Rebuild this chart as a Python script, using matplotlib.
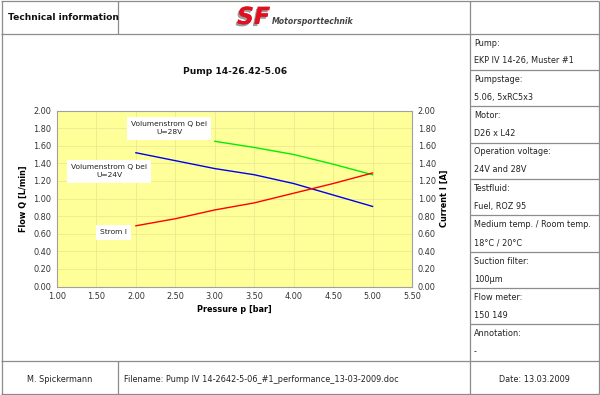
import matplotlib
matplotlib.use("Agg")
import matplotlib.pyplot as plt
import matplotlib.patheffects as pe

# ---- data ----
pressure_28v = [3.0, 3.5, 4.0, 4.5, 5.0]
flow_28v = [1.65, 1.58, 1.50, 1.39, 1.27]
pressure_24v = [2.0, 2.5, 3.0, 3.5, 4.0, 4.5, 5.0]
flow_24v = [1.52, 1.43, 1.34, 1.27, 1.17, 1.04, 0.91]
pressure_cur = [2.0, 2.5, 3.0, 3.5, 4.0, 4.5, 5.0]
current = [0.69, 0.77, 0.87, 0.95, 1.06, 1.17, 1.29]

x_ticks = [1.0, 1.5, 2.0, 2.5, 3.0, 3.5, 4.0, 4.5, 5.0, 5.5]
y_ticks = [0.0, 0.2, 0.4, 0.6, 0.8, 1.0, 1.2, 1.4, 1.6, 1.8, 2.0]

chart_title = "Pump 14-26.42-5.06"
info_rows = [
    ("Pump:", "EKP IV 14-26, Muster #1"),
    ("Pumpstage:", "5.06, 5xRC5x3"),
    ("Motor:", "D26 x L42"),
    ("Operation voltage:", "24V and 28V"),
    ("Testfluid:", "Fuel, ROZ 95"),
    ("Medium temp. / Room temp.", "18°C / 20°C"),
    ("Suction filter:", "100µm"),
    ("Flow meter:", "150 149"),
    ("Annotation:", "-"),
]
footer_author = "M. Spickermann"
footer_file = "Filename: Pump IV 14-2642-5-06_#1_performance_13-03-2009.doc"
footer_date = "Date: 13.03.2009"

plt.rcParams['font.family'] = ['DejaVu Sans']

W, H = 600, 395
fig = plt.figure(figsize=(6.0, 3.95), dpi=100)
fig.patch.set_facecolor("white")

# page frame axes in pixel coords
bg = fig.add_axes([0, 0, 1, 1])
bg.set_xlim(0, W)
bg.set_ylim(H, 0)
bg.axis("off")

lc = "#8c8c8c"
lw = 0.9
def hl(y, x0, x1):
    bg.plot([x0, x1], [y, y], color=lc, lw=lw, solid_capstyle="butt")
def vl(x, y0, y1):
    bg.plot([x, x], [y0, y1], color=lc, lw=lw, solid_capstyle="butt")

hl(1, 1, 599)
hl(394, 1, 599)
vl(1.5, 1, 394)
vl(598.5, 1, 394)
hl(33.5, 1, 599)
hl(360.5, 1, 599)
vl(118, 1, 33.5)
vl(118, 360.5, 394)
vl(469.5, 1, 394)

# right panel
row_h = (360.5 - 33.5) / 9
txt = "#222222"
for i, (lab, val) in enumerate(info_rows):
    y0 = 33.5 + i * row_h
    bg.text(474, y0 + 9.5, lab, fontsize=5.9, color=txt, va="center", ha="left")
    bg.text(474, y0 + 27.5, val, fontsize=5.9, color=txt, va="center", ha="left")
    if i > 0:
        hl(y0, 469.5, 599)

# header
bg.text(8, 17, "Technical information", fontsize=6.6, fontweight="bold",
        color="#111111", va="center", ha="left")
# logo
bg.text(237, 17, "SF", fontsize=17, fontweight="bold", fontstyle="italic",
        color="#e01020", va="center", ha="left",
        path_effects=[pe.withSimplePatchShadow(offset=(-1.2, -1.5),
                                               shadow_rgbFace="#9a9a9a",
                                               alpha=1.0),
                      pe.Normal()])
bg.text(272, 22, "Motorsporttechnik", fontsize=5.6, fontweight="bold",
        fontstyle="italic", color="#444444", va="center", ha="left")

# footer
bg.text(60, 380, footer_author, fontsize=5.9, color=txt, va="center", ha="center")
bg.text(124, 380, footer_file, fontsize=5.9, color=txt, va="center", ha="left")
bg.text(534, 380, footer_date, fontsize=5.9, color=txt, va="center", ha="center")

# chart title
bg.text(235, 72, chart_title, fontsize=6.6, fontweight="bold", color="#111111",
        va="center", ha="center")

# ---- chart ----
px0, px1, py0, py1 = 57, 412, 110.5, 286.5
ax = fig.add_axes([px0 / W, 1 - py1 / H, (px1 - px0) / W, (py1 - py0) / H])
ax.set_facecolor("#ffff99")
ax.set_xlim(1.0, 5.5)
ax.set_ylim(0.0, 2.0)
ax.set_xticks(x_ticks)
ax.set_yticks(y_ticks)
ax.set_xticklabels([f"{v:.2f}" for v in x_ticks])
ax.set_yticklabels([f"{v:.2f}" for v in y_ticks])
ax.grid(True, color="#eaea90", lw=0.6)
ax.set_axisbelow(True)
for s in ax.spines.values():
    s.set_color("#a0a0a0")
    s.set_linewidth(0.8)
ax.tick_params(labelsize=5.9, colors="#333333", length=0, pad=4)

ax.plot(pressure_28v, flow_28v, color="#00ee00", lw=1.0)
ax.plot(pressure_24v, flow_24v, color="#0000ee", lw=1.0)

ax2 = ax.twinx()
ax2.set_ylim(0.0, 2.0)
ax2.set_yticks(y_ticks)
ax2.set_yticklabels([f"{v:.2f}" for v in y_ticks])
ax2.tick_params(labelsize=5.9, colors="#333333", length=0, pad=4)
for s in ax2.spines.values():
    s.set_visible(False)
ax2.plot(pressure_cur, current, color="#ff0000", lw=1.0)

ax.set_xlabel("Pressure p [bar]", fontsize=5.9, fontweight="bold", labelpad=3)
ax.set_ylabel("Flow Q [L/min]", fontsize=5.9, fontweight="bold", labelpad=4)
ax2.set_ylabel("Current I [A]", fontsize=5.9, fontweight="bold", labelpad=3)

box = dict(facecolor="white", edgecolor="none", pad=3)
ax.text(2.42, 1.80, "Volumenstrom Q bei\nU=28V", fontsize=5.4, ha="center",
        va="center", bbox=box, color="#222222", linespacing=1.5)
ax.text(1.66, 1.31, "Volumenstrom Q bei\nU=24V", fontsize=5.4, ha="center",
        va="center", bbox=box, color="#222222", linespacing=1.5)
ax.text(1.72, 0.615, "Strom I", fontsize=5.4, ha="center", va="center",
        bbox=box, color="#222222")

fig.savefig("out.png", dpi=100, facecolor="white")
